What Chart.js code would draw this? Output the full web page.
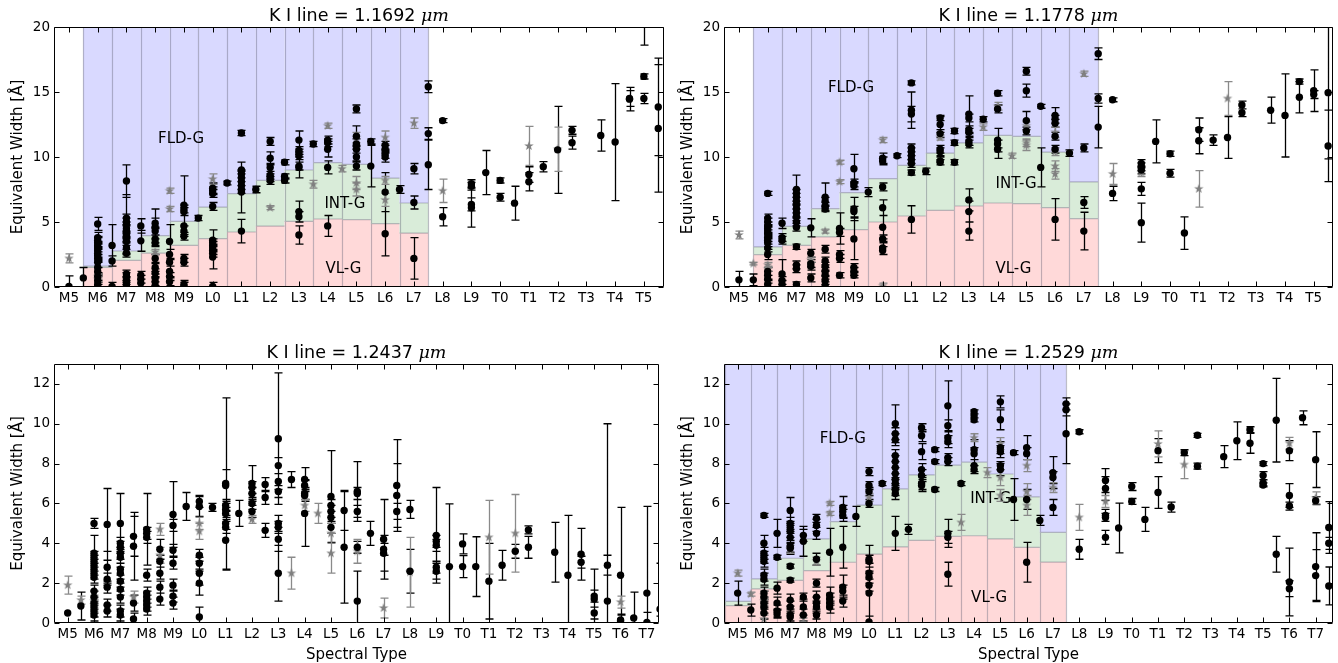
<!DOCTYPE html>
<html>
<head>
<meta charset="utf-8">
<script src="https://cdn.jsdelivr.net/npm/chart.js@4"></script>
<style>
  html, body { margin: 0; padding: 0; background: #fff; }
  #wrap { position: relative; width: 1338px; height: 663px; }
  canvas { position: absolute; }
</style>
</head>
<body>
<div id="wrap">
  <canvas id="kI11692" width="669" height="331" style="left:0;top:0"></canvas>
  <canvas id="kI11778" width="669" height="331" style="left:669px;top:0"></canvas>
  <canvas id="kI12437" width="669" height="332" style="left:0;top:331px"></canvas>
  <canvas id="kI12529" width="669" height="332" style="left:669px;top:331px"></canvas>
</div>
<script>
// spectral types, index 0 = M5
const sptTop = ["M5","M6","M7","M8","M9","L0","L1","L2","L3","L4","L5","L6","L7","L8","L9","T0","T1","T2","T3","T4","T5"];
const sptBottom = [...sptTop, "T6", "T7"];
const ewTicksTop = [0, 5, 10, 15, 20];
const ewTicksBottom = [0, 2, 4, 6, 8, 10, 12];

// [spectral index, EW (A), error]
const ew11692Black = [
  [0,0.05,0.8],[0.5,0.7,0.8],
  [1,4.85,0.5],[1,3.8,0.4],[1,3.6,0.3],[1,3.4,0.4],[1,3.2,0.3],[1,3.0,0.3],[1,2.8,0.3],[1,2.6,0.4],[1,2.4,0.3],[1,2.2,0.3],[1,1.9,0.4],[1,1.5,0.5],[1,1.2,0.3],[1,0.8,0.3],[1,0.5,0.3],[1,0.2,0.3],[1,0.05,0.3],
  [1.5,3.2,1.6],[1.5,2.0,0.4],[1.5,0.05,0.3],
  [2,8.15,1.25],[2,5.3,0.3],[2,5.0,0.3],[2,4.8,2.3],[2,4.5,0.3],[2,4.3,0.4],[2,4.0,0.3],[2,3.8,0.3],[2,3.5,0.3],[2,3.0,0.4],[2,2.6,0.3],[2,1.0,0.3],[2,0.8,0.3],[2,0.5,0.3],[2,0.2,0.3],[2,0.05,0.3],
  [2.5,4.7,0.55],[2.5,3.55,0.8],[2.5,0.9,0.3],[2.5,0.6,0.3],[2.5,0.3,0.3],
  [3,4.9,0.4],[3,4.6,1.4],[3,4.3,0.3],[3,3.7,0.3],[3,3.4,0.3],[3,2.2,0.3],[3,1.5,0.3],[3,1.1,0.3],[3,0.7,0.3],[3,0.4,0.3],[3,0.1,0.3],
  [3.5,3.5,1.3],[3.5,2.5,0.4],[3.5,1.9,0.3],[3.5,1.2,0.4],[3.5,0.8,0.3],[3.5,0.4,0.3],
  [4,6.3,2.25],[4,6.0,0.3],[4,5.8,0.3],[4,4.7,0.8],[4,4.3,0.4],[4,3.9,0.3],[4,2.2,0.3],[4,1.9,0.3],[4,0.2,0.3],[4,0.05,0.3],
  [4.5,5.3,0.2],
  [5,7.6,0.4],[5,7.4,0.3],[5,7.2,0.3],[5,6.2,0.3],[5,3.6,0.8],[5,3.4,0.3],[5,3.2,0.3],[5,3.0,0.3],[5,2.8,0.3],[5,2.6,0.3],[5,2.3,0.9],[5,0.05,0.3],
  [5.5,8.0,0.15],
  [6,11.85,0.2],[6,9.0,0.6],[6,8.7,0.3],[6,8.4,0.3],[6,8.1,0.3],[6,7.8,0.3],[6,7.5,0.3],[6,7.3,1.6],[6,4.3,0.9],
  [6.5,7.5,0.25],
  [7,11.2,0.3],[7,9.9,0.5],[7,9.2,0.3],[7,8.6,0.3],[7,8.4,0.3],[7,8.2,0.3],
  [7.5,9.6,0.2],[7.5,8.5,0.2],[7.5,8.2,0.2],
  [8,11.3,0.7],[8,10.5,0.3],[8,10.3,0.3],[8,10.1,0.3],[8,9.3,0.3],[8,9.2,0.8],[8,5.8,0.8],[8,5.4,0.4],[8,4.0,0.7],
  [8.5,11.0,0.2],
  [9,11.3,0.3],[9,11.1,0.3],[9,10.6,0.6],[9,9.2,0.5],[9,4.7,0.8],
  [10,13.7,0.3],[10,11.6,0.8],[10,11.0,0.4],[10,10.6,0.3],[10,10.0,0.3],[10,9.3,0.3],
  [10.5,11.2,0.2],[10.5,9.3,1.6],
  [11,10.9,0.3],[11,10.6,0.3],[11,10.2,0.3],[11,10.0,0.4],[11,7.3,1.5],[11,4.1,1.7],
  [11.5,7.5,0.3],
  [12,9.1,0.4],[12,6.5,0.5],[12,2.2,1.6],
  [12.5,15.4,0.45],[12.5,11.8,0.45],[12.5,9.4,1.9],
  [13,12.8,0.15],[13,5.4,0.7],
  [14,7.95,0.3],[14,7.75,0.3],[14,6.35,0.5],[14,6.1,1.5],
  [14.5,8.8,1.7],
  [15,8.2,0.2],[15,6.9,0.3],
  [15.5,6.45,1.3],
  [16,8.65,0.6],[16,8.1,0.7],
  [16.5,9.25,0.4],
  [17,10.55,3.35],
  [17.5,12.05,0.3],[17.5,11.1,0.5],
  [18.5,11.65,1.2],
  [19,11.15,4.5],
  [19.5,14.5,0.6],[19.5,14.45,0.9],
  [20,22.2,3.6],[20,16.2,0.2],[20,14.5,0.4],
  [20.5,13.85,3.75],[20.5,12.2,4.9]
];
const ew11692Grey = [
  [0,2.2,0.35],[1,0.8,0.2],[1,0.6,0.2],[3,2.7,0.2],[3.5,7.4,0.2],[3.5,6.0,0.2],[5,8.3,0.4],[7,6.1,0.15],
  [8.5,7.9,0.3],[9,12.4,0.2],[9.5,9.1,0.25],[10,11.5,0.4],[10,8.0,0.5],[10,7.5,0.5],[11,11.5,0.5],
  [11,8.2,0.3],[11,6.7,0.5],[12,12.6,0.4],[13,7.4,0.9],[16,10.85,1.5],[17,10.6,1.7]
];

const ew11778Black = [
  [0,0.55,0.65],[0.5,0.55,0.45],
  [1,7.2,0.15],[1,5.3,0.3],[1,5.0,0.3],[1,4.7,0.3],[1,4.5,0.3],[1,4.3,0.3],[1,4.1,0.3],[1,3.8,0.3],[1,3.6,0.3],[1,3.4,0.3],[1,3.0,0.3],[1,2.5,0.4],[1,1.2,0.3],[1,0.9,0.3],[1,0.6,0.3],[1,0.2,0.3],
  [1.5,4.9,0.4],[1.5,3.8,0.3],[1.5,3.6,0.3],[1.5,1.0,1.1],[1.5,0.5,0.3],[1.5,0.2,0.3],
  [2,7.5,1.1],[2,7.2,0.3],[2,6.9,0.3],[2,6.6,0.3],[2,6.3,0.3],[2,6.0,0.3],[2,5.7,0.3],[2,5.4,0.3],[2,5.0,0.3],[2,4.6,0.3],[2,3.1,0.2],[2,1.7,0.3],[2,1.4,0.3],[2,0.2,0.2],
  [2.5,4.55,0.7],[2.5,2.6,0.3],[2.5,1.8,0.3],[2.5,1.6,0.3],[2.5,0.7,0.3],
  [3,6.9,1.1],[3,6.6,0.3],[3,6.2,0.3],[3,6.0,0.2],[3,2.9,0.3],[3,2.0,0.3],[3,1.6,0.3],[3,1.2,0.3],[3,0.9,0.3],[3,0.5,0.3],[3,0.1,0.3],
  [3.5,4.5,1.2],[3.5,4.2,0.3],[3.5,2.5,0.3],[3.5,2.2,0.3],[3.5,0.9,0.2],
  [4,9.1,1.1],[4,8.0,0.3],[4,7.8,0.3],[4,6.0,0.9],[4,5.8,0.4],[4,3.7,1.6],[4,1.5,0.3],[4,1.2,0.3],[4,0.9,0.2],
  [4.5,7.3,0.35],
  [5,9.9,0.4],[5,9.7,0.3],[5,7.7,0.3],[5,6.1,0.6],[5,4.6,0.9],[5,3.7,0.3],[5,3.0,0.5],[5,2.8,0.3],
  [5.5,10.1,0.15],
  [6,15.7,0.15],[6,13.6,1.4],[6,13.3,0.6],[6,10.7,0.3],[6,10.4,0.3],[6,10.1,0.3],[6,9.8,0.3],[6,9.5,0.3],[6,8.8,0.2],[6,5.2,1.05],
  [6.5,8.9,0.25],
  [7,13.0,0.2],[7,12.5,0.6],[7,11.8,0.3],[7,10.6,0.3],[7,10.4,0.3],[7,9.7,0.3],[7,9.6,0.2],
  [7.5,12.0,0.2],[7.5,11.1,0.2],[7.5,9.6,0.2],
  [8,13.3,1.4],[8,13.0,0.3],[8,12.1,0.3],[8,11.9,0.3],[8,11.2,0.3],[8,11.0,0.3],[8,6.7,0.85],[8,5.8,0.8],[8,4.3,0.7],
  [8.5,12.9,0.2],
  [9,14.9,0.2],[9,13.7,0.3],[9,11.3,0.9],[9,11.0,0.3],[9,10.6,0.7],
  [10,16.6,0.3],[10,15.1,0.5],[10,12.8,0.7],[10,12.0,0.3],
  [10.5,13.9,0.15],[10.5,9.2,1.5],
  [11,13.2,0.6],[11,12.9,0.3],[11,12.6,0.3],[11,11.6,0.3],[11,10.6,0.3],[11,5.2,1.6],
  [11.5,10.3,0.25],
  [12,10.7,0.3],[12,6.5,0.45],[12,4.3,1.45],
  [12.5,17.95,0.45],[12.5,14.5,0.35],[12.5,12.3,1.6],
  [13,14.4,0.15],[13,7.2,0.55],
  [14,9.5,0.3],[14,9.25,0.3],[14,9.0,0.3],[14,7.55,0.5],[14,4.95,1.5],
  [14.5,11.2,1.65],
  [15,10.25,0.2],[15,8.75,0.3],
  [15.5,4.15,1.25],
  [16,12.1,0.9],[16,11.25,1.0],
  [16.5,11.3,0.4],
  [17,11.5,1.6],
  [17.5,14.0,0.3],[17.5,13.4,0.3],
  [18.5,13.6,1.0],
  [19,13.2,3.2],
  [19.5,15.8,0.2],[19.5,14.6,1.2],
  [20,15.1,1.6],[20,14.8,0.3],
  [20.5,14.95,5.1],[20.5,10.85,2.75]
];
const ew11778Grey = [
  [0,4.0,0.3],[0.5,1.8,0.1],[1,1.7,0.2],[1,1.4,0.2],[2.5,2.1,0.2],[3,4.3,0.15],[3.5,9.6,0.15],[3.5,8.1,0.15],
  [5,11.3,0.2],[5,0.1,0.2],[7,11.5,0.2],[8.5,12.3,0.25],[9,13.9,0.3],[9.5,10.1,0.2],[10,12.4,0.3],
  [10,11.1,0.3],[10,10.9,0.4],[11,11.9,0.4],[11,10.4,0.3],[11,9.3,0.4],[11,8.7,0.4],[12,16.4,0.2],
  [13,8.7,0.8],[14,8.8,0.3],[16,7.55,1.4],[17,14.5,1.3]
];

const ew12437Black = [
  [0,0.5,0],[0.5,0.85,0.7],
  [1,5.0,0.25],[1,3.5,0.9],[1,3.3,0.3],[1,3.1,0.3],[1,2.9,0.3],[1,2.7,0.3],[1,2.5,0.3],[1,2.3,0.3],[1,1.6,0.3],[1,1.3,0.3],[1,1.0,0.3],[1,0.8,0.3],[1,0.6,0.3],[1,0.4,0.3],
  [1.5,4.95,1.8],[1.5,2.8,0.8],[1.5,2.2,0.3],[1.5,1.8,0.3],[1.5,0.9,0.3],[1.5,0.6,0.3],
  [2,5.0,1.5],[2,4.0,0.3],[2,3.8,0.3],[2,3.5,0.3],[2,3.3,0.3],[2,2.7,0.3],[2,2.5,0.3],[2,2.1,0.3],[2,1.7,0.3],[2,1.3,0.3],[2,0.6,0.3],[2,0.4,0.3],
  [2.5,4.35,1.0],[2.5,3.85,1.7],[2.5,1.0,0.4],[2.5,0.2,0.3],
  [3,4.7,1.8],[3,4.5,0.3],[3,4.3,0.3],[3,2.4,0.3],[3,1.5,0.3],[3,1.3,0.3],[3,1.1,0.3],[3,0.9,0.3],[3,0.7,0.3],
  [3.5,3.7,0.5],[3.5,3.1,0.3],[3.5,2.5,0.3],[3.5,1.8,0.3],[3.5,1.2,0.3],
  [4,5.45,1.65],[4,4.9,0.3],[4,3.65,0.3],[4,3.0,0.3],[4,1.9,0.3],[4,1.35,0.3],[4,1.0,0.3],
  [4.5,5.85,0.7],
  [5,6.1,0.3],[5,5.85,0.5],[5,3.4,0.3],[5,3.0,0.3],[5,2.5,0.6],[5,2.0,0.6],[5,0.3,0.5],
  [5.5,5.8,0.2],
  [6,7.0,4.3],[6,6.9,0.8],[6,5.9,0.3],[6,5.7,0.3],[6,5.5,0.3],[6,5.0,0.3],[6,4.8,0.3],[6,4.15,1.5],
  [6.5,5.5,0.65],
  [7,7.0,0.9],[7,6.8,0.3],[7,6.5,0.3],[7,6.0,0.3],[7,5.6,0.3],
  [7.5,6.95,0.35],[7.5,6.3,0.35],[7.5,4.65,0.35],
  [8,9.25,3.3],[8,7.9,0.4],[8,7.1,0.4],[8,6.6,0.3],[8,5.0,0.4],[8,4.8,0.3],[8,4.2,0.6],[8,2.5,1.4],
  [8.5,7.2,0.4],
  [9,7.2,0.6],[9,6.9,0.3],[9,6.5,0.3],[9,6.4,0.3],[9,5.5,1.65],
  [10,6.35,2.3],[10,5.9,0.3],[10,5.6,0.3],[10,5.3,0.3],[10,4.8,0.3],
  [10.5,5.65,1.0],[10.5,3.8,2.8],
  [11,6.6,1.5],[11,6.5,0.3],[11,5.6,0.3],[11,3.8,0.3],[11,1.1,1.5],
  [11.5,4.5,0.6],
  [12,4.2,2.0],[12,3.7,0.3],[12,3.5,0.9],
  [12.5,6.9,2.3],[12.5,6.4,1.6],[12.5,5.6,0.4],
  [13,5.7,0.45],[13,2.6,1.1],
  [14,4.4,2.4],[14,4.1,0.3],[14,3.9,0.3],[14,2.8,0.3],[14,2.6,0.4],
  [14.5,2.83,3.15],
  [15,3.97,0.5],[15,2.83,0.55],
  [15.5,2.83,1.5],
  [16,2.1,1.9],
  [16.5,2.9,0.75],
  [17,3.6,0.35],
  [17.5,4.67,0.2],[17.5,3.8,0.55],
  [18.5,3.55,1.5],
  [19,2.4,3.0],
  [19.5,3.45,1.3],[19.5,3.05,0.3],
  [20,1.35,0.3],[20,1.2,1.5],[20,0.5,0.3],
  [20.5,2.9,0.5],[20.5,1.1,8.9],
  [21,2.4,3.4],[21,0.15,0.3],[21,0.1,0.3],
  [21.5,0.25,1.3],
  [22,1.5,4.35],[22,0.03,0.5],
  [22.5,0.7,2.3],[22.5,0.05,0.3]
];
const ew12437Grey = [
  [0,1.9,0.45],[0.5,1.15,0.2],[1,1.1,0.3],[1,0.9,0.3],[2.5,1.3,0.3],[3.5,4.7,0.3],[3.5,3.4,0.4],
  [5,5.0,0.3],[5,4.6,0.4],[7,5.2,0.2],[8.5,2.5,0.8],[9,5.9,0.3],[9.5,5.5,0.5],[10,4.5,0.5],
  [10,3.5,1.0],[11,3.6,0.6],[12,0.75,0.5],[13,2.55,1.75],[16,4.3,1.85],[17,4.5,1.95],[21,1.05,0.3]
];

const ew12529Black = [
  [0,1.5,0.6],[0.5,0.65,0.3],
  [1,5.4,0.1],[1,4.0,0.4],[1,3.5,0.3],[1,3.3,0.3],[1,3.1,0.3],[1,2.4,0.3],[1,2.2,0.3],[1,1.5,0.3],[1,1.3,0.3],[1,1.0,0.3],[1,0.8,0.3],[1,0.5,0.3],
  [1.5,4.5,0.7],[1.5,3.3,0.1],[1.5,1.75,0.3],[1.5,1.0,0.3],[1.5,0.6,0.3],[1.5,0.45,0.2],
  [2,5.65,0.65],[2,5.0,0.3],[2,4.8,0.3],[2,4.6,0.3],[2,4.3,0.3],[2,3.85,0.3],[2,3.75,0.3],[2,2.85,0.1],[2,2.15,0.1],[2,1.15,0.3],[2,0.8,0.3],[2,0.4,0.3],[2,0.3,0.3],
  [2.5,4.4,0.3],[2.5,4.1,0.75],[2.5,1.3,0.2],[2.5,0.8,0.4],[2.5,0.4,0.3],
  [3,5.25,0.2],[3,4.9,0.3],[3,4.5,0.3],[3,3.2,0.3],[3,2.0,0.2],[3,1.3,0.3],[3,1.0,0.3],[3,0.8,0.3],[3,0.4,0.2],
  [3.5,3.55,1.2],[3.5,1.4,0.4],[3.5,1.2,0.3],[3.5,1.0,0.3],[3.5,0.8,0.3],
  [4,5.8,0.55],[4,5.6,0.3],[4,5.4,0.3],[4,3.8,1.05],[4,1.8,0.6],[4,1.6,0.3],[4,1.1,0.3],
  [4.5,5.35,0.5],
  [5,7.6,0.2],[5,6.9,0.2],[5,6.6,0.2],[5,6.0,0.2],[5,3.2,0.7],[5,3.1,0.3],[5,2.5,0.3],[5,2.3,0.3],[5,1.9,0.3],[5,1.5,1.5],[5,0.05,0.3],
  [5.5,7.0,0.1],
  [6,10.0,0.95],[6,9.5,0.3],[6,9.2,0.3],[6,8.4,0.3],[6,8.1,0.3],[6,7.8,0.3],[6,7.5,0.3],[6,7.2,0.3],[6,7.0,0.3],[6,6.7,0.3],[6,6.5,0.3],[6,4.5,0.85],
  [6.5,4.7,0.25],
  [7,9.8,0.2],[7,9.4,0.3],[7,8.6,0.4],[7,7.7,0.3],[7,7.4,0.3],[7,7.0,0.3],[7,6.9,0.3],
  [7.5,8.7,0.1],[7.5,8.1,0.1],[7.5,6.7,0.1],
  [8,10.9,1.25],[8,9.9,0.3],[8,9.3,0.3],[8,9.1,0.3],[8,8.3,0.2],[8,8.1,0.2],[8,4.5,0.7],[8,4.3,0.3],[8,2.45,0.6],
  [8.5,7.0,0.1],
  [9,10.6,0.1],[9,10.4,0.1],[9,10.2,0.1],[9,8.7,0.5],[9,8.5,0.3],[9,7.9,0.3],[9,7.7,0.2],
  [10,11.1,0.3],[10,10.2,0.5],[10,8.8,0.3],[10,8.6,0.3],[10,7.9,0.2],[10,7.7,0.3],
  [10.5,8.55,0.1],[10.5,6.2,1.05],
  [11,8.8,0.6],[11,8.5,0.3],[11,6.2,0.5],[11,3.05,1.0],
  [11.5,5.15,0.25],
  [12,7.55,0.8],[12,7.3,0.3],[12,5.8,0.4],
  [12.5,11.0,0.3],[12.5,10.7,0.3],[12.5,9.5,1.5],
  [13,9.6,0.1],[13,3.7,0.5],
  [14,7.15,0.6],[14,6.75,0.6],[14,5.4,0.3],[14,5.3,0.2],[14,4.3,0.35],
  [14.5,4.77,1.25],
  [15,6.85,0.2],[15,6.1,0.15],
  [15.5,5.2,0.6],
  [16,8.65,0.6],[16,6.55,0.8],
  [16.5,5.82,0.25],
  [17,8.55,0.15],
  [17.5,9.42,0.1],[17.5,7.87,0.15],
  [18.5,8.35,0.55],
  [19,9.15,0.95],
  [19.5,9.7,0.15],[19.5,9.02,0.5],
  [20,8.0,0.1],[20,7.4,0.2],[20,7.03,0.15],[20,6.93,0.1],
  [20.5,10.18,2.1],[20.5,3.45,0.9],
  [21,8.65,0.5],[21,6.4,0.6],[21,5.87,0.2],[21,2.06,1.7],[21,1.72,0.4],
  [21.5,10.3,0.35],
  [22,8.2,1.4],[22,6.14,0.2],[22,2.83,1.7],[22,2.38,1.3],
  [22.5,4.79,1.3],[22.5,4.0,0.3],[22.5,1.86,0.95]
];
const ew12529Grey = [
  [0,2.5,0.15],[0.5,1.45,0.1],[1,1.4,0.2],[1,1.1,0.2],[1,0.2,0.2],[2,3.7,0.2],[2.5,0.05,0.2],[3,3.1,0.2],
  [3.5,6.0,0.1],[3.5,5.5,0.1],[5,6.3,0.2],[8.5,5.05,0.4],[9,9.3,0.2],[9.5,7.55,0.25],[10,9.0,0.3],
  [10,7.3,0.4],[10,6.4,0.3],[11,7.9,0.3],[11,6.6,0.4],[11,5.9,0.5],[12,6.8,0.25],[13,5.3,0.65],
  [14,6.1,0.3],[16,8.99,0.65],[17,7.95,0.7],[21,9.02,0.3],[22,6.28,0.3]
];

// gravity class boundaries per spectral bin: VL-G upper edge, INT-G upper edge
const vlg11692 = [1.5,2.05,2.6,3.2,3.72,4.23,4.69,5.05,5.23,5.18,4.87,4.15];
const intg11692 = [1.6,2.77,3.95,5.05,6.15,7.18,8.2,9.0,9.56,9.44,8.38,6.46];
const vlg11778 = [2.49,3.2,3.85,4.41,5.0,5.46,5.9,6.23,6.46,6.41,6.1,5.26];
const intg11778 = [3.08,4.67,6.03,7.26,8.33,9.36,10.3,11.08,11.67,11.59,10.38,8.08];
const vlg12529 = [0.87,1.71,2.14,2.63,3.05,3.46,3.82,4.15,4.35,4.38,4.22,3.8,3.06];
const intg12529 = [1.09,2.21,3.25,4.22,5.09,5.92,6.73,7.43,7.92,8.07,7.48,6.33,4.55];

Chart.defaults.font.family = "'DejaVu Sans', sans-serif";
Chart.defaults.color = "#000";

const starMarker = (() => {
  const c = document.createElement("canvas");
  c.width = c.height = 12;
  const g = c.getContext("2d");
  g.fillStyle = "#7f7f7f";
  g.beginPath();
  for (let k = 0; k < 10; k++) {
    const r = k % 2 ? 2 : 5, a = -Math.PI / 2 + k * Math.PI / 5;
    g.lineTo(6 + r * Math.cos(a), 6 + r * Math.sin(a));
  }
  g.closePath();
  g.fill();
  return c;
})();

const toPoint = ([x, y, err]) => ({ x, y, err });

// shaded gravity bands, band labels and error bars, all under the markers
const underlay = {
  id: "underlay",
  beforeDatasetsDraw(chart, args, opts) {
    const { ctx, chartArea: a, scales: { x, y } } = chart;
    ctx.save();
    ctx.beginPath();
    ctx.rect(a.left, a.top, a.width, a.height);
    ctx.clip();

    if (opts.vlg) {
      const yb = y.getPixelForValue(0), yt = a.top;
      opts.vlg.forEach((vl, k) => {
        const i = opts.first + k;
        const x0 = x.getPixelForValue(i - 0.5), x1 = x.getPixelForValue(i + 0.5);
        const yv = y.getPixelForValue(vl), yi = y.getPixelForValue(opts.intg[k]);
        ctx.fillStyle = "rgb(255,217,217)";
        ctx.fillRect(x0, yv, x1 - x0, yb - yv);
        ctx.fillStyle = "rgb(217,236,217)";
        ctx.fillRect(x0, yi, x1 - x0, yv - yi);
        ctx.fillStyle = "rgb(217,217,255)";
        ctx.fillRect(x0, yt, x1 - x0, yi - yt);
      });
      ctx.strokeStyle = "rgba(90,90,110,0.38)";
      ctx.lineWidth = 1.2;
      ctx.beginPath();
      opts.vlg.forEach((vl, k) => {
        const i = opts.first + k;
        const x0 = x.getPixelForValue(i - 0.5), x1 = x.getPixelForValue(i + 0.5);
        const yv = y.getPixelForValue(vl), yi = y.getPixelForValue(opts.intg[k]);
        ctx.moveTo(x0, yv); ctx.lineTo(x1, yv);
        ctx.moveTo(x0, yi); ctx.lineTo(x1, yi);
        ctx.moveTo(Math.round(x0) + 0.5, yb); ctx.lineTo(Math.round(x0) + 0.5, yt);
        if (k === opts.vlg.length - 1) {
          ctx.moveTo(Math.round(x1) + 0.5, yb); ctx.lineTo(Math.round(x1) + 0.5, yt);
        }
      });
      ctx.stroke();

      ctx.fillStyle = "#000";
      ctx.font = "15px 'DejaVu Sans'";
      ctx.textAlign = "center";
      ctx.textBaseline = "middle";
      opts.labels.forEach(([text, lx, ly]) => {
        ctx.fillText(text, x.getPixelForValue(lx), y.getPixelForValue(ly));
      });
    }

    chart.data.datasets.forEach(ds => {
      ctx.strokeStyle = ds.barColor;
      ctx.lineWidth = 1.3;
      ctx.beginPath();
      ds.data.forEach(p => {
        if (!p.err) return;
        const px = Math.round(x.getPixelForValue(p.x)) + 0.5;
        const lo = y.getPixelForValue(p.y - p.err), hi = y.getPixelForValue(p.y + p.err);
        ctx.moveTo(px, lo); ctx.lineTo(px, hi);
        ctx.moveTo(px - 4, lo); ctx.lineTo(px + 4, lo);
        ctx.moveTo(px - 4, hi); ctx.lineTo(px + 4, hi);
      });
      ctx.stroke();
    });
    ctx.restore();
  }
};

// axes frame with inward ticks on all four sides, plus the title
const frame = {
  id: "frame",
  afterDatasetsDraw(chart, args, opts) {
    const { ctx, chartArea: a, scales: { x, y } } = chart;
    const L = Math.round(a.left) + 0.5, R = Math.round(a.right) - 0.5;
    const T = Math.round(a.top) + 0.5, B = Math.round(a.bottom) - 0.5;
    ctx.save();
    ctx.strokeStyle = "#000";
    ctx.lineWidth = 1;
    ctx.beginPath();
    ctx.rect(L, T, R - L, B - T);
    x.ticks.forEach(t => {
      const px = Math.round(x.getPixelForValue(t.value)) + 0.5;
      ctx.moveTo(px, B); ctx.lineTo(px, B - 5);
      ctx.moveTo(px, T); ctx.lineTo(px, T + 5);
    });
    y.ticks.forEach(t => {
      const py = Math.round(y.getPixelForValue(t.value)) + 0.5;
      ctx.moveTo(L, py); ctx.lineTo(L + 5, py);
      ctx.moveTo(R, py); ctx.lineTo(R - 5, py);
    });
    ctx.stroke();

    const main = opts.text, unit = "\u03bcm";
    const mainFont = "17.5px 'DejaVu Sans'", unitFont = "italic 17.5px 'DejaVu Serif'";
    ctx.font = mainFont;
    const w1 = ctx.measureText(main).width;
    ctx.font = unitFont;
    const w2 = ctx.measureText(unit).width;
    let tx = (a.left + a.right) / 2 - (w1 + w2) / 2;
    ctx.fillStyle = "#000";
    ctx.textBaseline = "alphabetic";
    ctx.textAlign = "left";
    ctx.font = mainFont;
    ctx.fillText(main, tx, opts.baseline);
    ctx.font = unitFont;
    ctx.fillText(unit, tx + w1, opts.baseline);
    ctx.restore();
  }
};

const makePanel = (id, p) => new Chart(document.getElementById(id), {
  type: "scatter",
  data: {
    datasets: [
      {
        data: p.black.map(toPoint),
        backgroundColor: "#000",
        borderColor: "#000",
        borderWidth: 0,
        pointRadius: 3.7,
        barColor: "#000",
        order: 0,
        clip: 0
      },
      {
        data: p.grey.map(toPoint),
        pointStyle: starMarker,
        barColor: "#8a8a8a",
        order: 1,
        clip: 0
      }
    ]
  },
  plugins: [underlay, frame],
  options: {
    responsive: false,
    animation: false,
    events: [],
    layout: { padding: { top: p.top, right: p.right, left: 0, bottom: 0 } },
    plugins: {
      legend: { display: false },
      tooltip: { enabled: false },
      underlay: p.bands || {},
      frame: { text: p.title, baseline: p.titleBaseline }
    },
    scales: {
      x: {
        type: "linear",
        min: -0.52,
        max: p.xMax,
        grid: { display: false, drawTicks: false },
        border: { display: false },
        afterBuildTicks: s => { s.ticks = p.spt.map((_, i) => ({ value: i })); },
        afterFit: s => { s.height = p.xAxisHeight; },
        ticks: {
          autoSkip: false,
          maxRotation: 0,
          padding: 3,
          font: { size: 13.5 },
          callback: v => p.spt[v]
        },
        title: {
          display: p.showXTitle,
          text: "Spectral Type",
          font: { size: 15, lineHeight: 1 },
          padding: { top: 0, bottom: 0.5 }
        }
      },
      y: {
        type: "linear",
        min: 0,
        max: p.yMax,
        grid: { display: false, drawTicks: false },
        border: { display: false },
        afterBuildTicks: s => { s.ticks = p.yTicks.map(v => ({ value: v })); },
        afterFit: s => { s.width = p.yAxisWidth; },
        ticks: { padding: 4, font: { size: 13.5 } },
        title: {
          display: true,
          text: "Equivalent Width [\u00c5]",
          font: { size: 15 },
          padding: { top: p.yTitlePad, bottom: 0 }
        }
      }
    }
  }
});

makePanel("kI11692", {
  title: "K I line = 1.1692 ", titleBaseline: 21,
  black: ew11692Black, grey: ew11692Grey, spt: sptTop, yTicks: ewTicksTop,
  xMax: 20.7, yMax: 20, top: 27, right: 5, yAxisWidth: 54, xAxisHeight: 44, yTitlePad: 9,
  showXTitle: false,
  bands: { first: 1, vlg: vlg11692, intg: intg11692,
    labels: [["FLD-G", 3.9, 11.4], ["INT-G", 9.6, 6.4], ["VL-G", 9.55, 1.4]] }
});

makePanel("kI11778", {
  title: "K I line = 1.1778 ", titleBaseline: 21,
  black: ew11778Black, grey: ew11778Grey, spt: sptTop, yTicks: ewTicksTop,
  xMax: 20.67, yMax: 20, top: 27, right: 4, yAxisWidth: 55, xAxisHeight: 44, yTitlePad: 10,
  showXTitle: false,
  bands: { first: 1, vlg: vlg11778, intg: intg11778,
    labels: [["FLD-G", 3.9, 15.3], ["INT-G", 9.64, 7.9], ["VL-G", 9.55, 1.4]] }
});

makePanel("kI12437", {
  title: "K I line = 1.2437 ", titleBaseline: 27,
  black: ew12437Black, grey: ew12437Grey, spt: sptBottom, yTicks: ewTicksBottom,
  xMax: 22.46, yMax: 13, top: 33, right: 10, yAxisWidth: 54, xAxisHeight: 40, yTitlePad: 9,
  showXTitle: true
});

makePanel("kI12529", {
  title: "K I line = 1.2529 ", titleBaseline: 27,
  black: ew12529Black, grey: ew12529Grey, spt: sptBottom, yTicks: ewTicksBottom,
  xMax: 22.66, yMax: 13, top: 33, right: 4, yAxisWidth: 55, xAxisHeight: 40, yTitlePad: 10,
  showXTitle: true,
  bands: { first: 0, vlg: vlg12529, intg: intg12529,
    labels: [["FLD-G", 4.0, 9.25], ["INT-G", 9.63, 6.2], ["VL-G", 9.57, 1.25]] }
});
</script>
</body>
</html>
